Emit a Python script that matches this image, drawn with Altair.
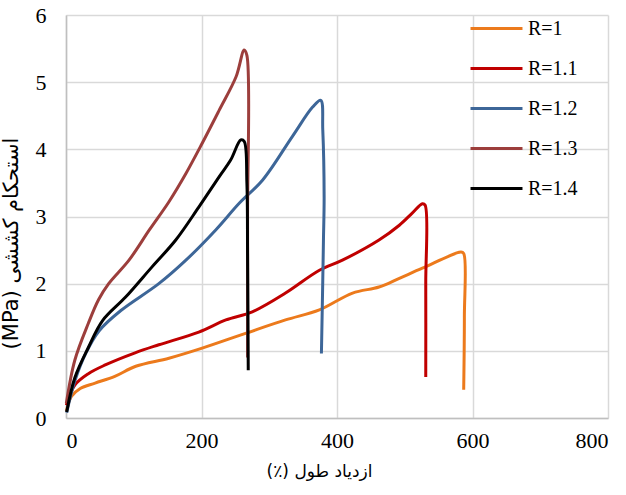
import altair as alt
import pandas as pd

series_names = ["R=1", "R=1.1", "R=1.2", "R=1.3", "R=1.4"]
colors = ["#EC7A1C", "#C00000", "#3D6698", "#9C3E3C", "#000000"]

r10_x = [0.5, 8, 21, 43, 72, 103, 152, 201, 265, 324, 374, 423, 462, 492, 526, 583, 587, 588, 587]
r10_y = [0.10, 0.32, 0.44, 0.52, 0.62, 0.77, 0.89, 1.04, 1.26, 1.46, 1.61, 1.86, 1.95, 2.08, 2.23, 2.47, 2.45, 1.50, 0.42]

r11_x = [0.5, 13, 33, 58, 102, 137, 196, 236, 275, 324, 374, 408, 462, 492, 511, 526, 530, 531, 531]
r11_y = [0.19, 0.49, 0.66, 0.79, 0.97, 1.09, 1.28, 1.46, 1.58, 1.86, 2.20, 2.35, 2.65, 2.87, 3.05, 3.19, 3.17, 2.00, 0.61]

r12_x = [1, 13, 30, 49, 81, 137, 177, 221, 256, 290, 334, 364, 376, 379, 381, 380, 379, 377]
r12_y = [0.08, 0.55, 0.98, 1.30, 1.60, 2.00, 2.35, 2.80, 3.20, 3.54, 4.19, 4.63, 4.73, 4.29, 3.29, 2.65, 2.05, 0.96]

r13_x = [0.5, 13, 33, 48, 63, 93, 123, 152, 177, 201, 226, 251, 263, 267, 268, 268]
r13_y = [0.22, 0.86, 1.41, 1.76, 2.00, 2.35, 2.80, 3.22, 3.64, 4.09, 4.58, 5.08, 5.48, 5.40, 3.00, 0.90]

r14_x = [1, 13, 33, 54, 88, 127, 162, 196, 226, 243, 258, 263, 267, 268, 269]
r14_y = [0.09, 0.60, 1.05, 1.45, 1.80, 2.25, 2.65, 3.14, 3.59, 3.84, 4.14, 4.12, 3.50, 2.45, 0.71]

x_ticks = [0, 200, 400, 600, 800]
y_ticks = [0, 1, 2, 3, 4, 5, 6]

rows = []
for name, xs, ys in zip(series_names,
                        [r10_x, r11_x, r12_x, r13_x, r14_x],
                        [r10_y, r11_y, r12_y, r13_y, r14_y]):
    for i, (xv, yv) in enumerate(zip(xs, ys)):
        rows.append({"series": name, "x": xv, "y": yv, "order": i})
df = pd.DataFrame(rows)

chart = alt.Chart(df).mark_line(strokeWidth=3, interpolate="catmull-rom").encode(
    x=alt.X("x:Q", scale=alt.Scale(domain=[0, 800], nice=False),
            axis=alt.Axis(values=x_ticks, title="(٪) ازدیاد طول", tickSize=0,
                          labelPadding=12, titlePadding=12, titleX=253,
                          titleFontSize=17)),
    y=alt.Y("y:Q", scale=alt.Scale(domain=[0, 6], nice=False),
            axis=alt.Axis(values=y_ticks, title="(MPa) استحکام کششی", tickSize=0,
                          labelPadding=20, titlePadding=14, titleY=228,
                          titleFontSize=21)),
    color=alt.Color("series:N", scale=alt.Scale(domain=series_names, range=colors),
                    legend=alt.Legend(title=None, orient="none", legendX=403, legendY=-14,
                                      symbolType="stroke", symbolSize=2700,
                                      symbolStrokeWidth=3, rowPadding=2,
                                      labelFont="Liberation Serif", labelFontSize=20,
                                      labelColor="#000000", labelOffset=4)),
    order="order:Q",
).properties(
    width=542, height=403,
    autosize=alt.AutoSizeParams(type="none"),
    padding={"left": 66, "top": 15, "right": 18, "bottom": 77},
).configure_view(stroke=None).configure_axis(
    labelFont="Liberation Serif", labelFontSize=22, labelColor="#000000",
    titleFont="DejaVu Sans", titleFontWeight="normal", titleColor="#000000",
    gridColor="#D9D9D9", gridWidth=1.5, domainColor="#BFBFBF", domainWidth=1.5,
)

chart.save("out.html", embed_options={"renderer": "svg", "actions": False})
